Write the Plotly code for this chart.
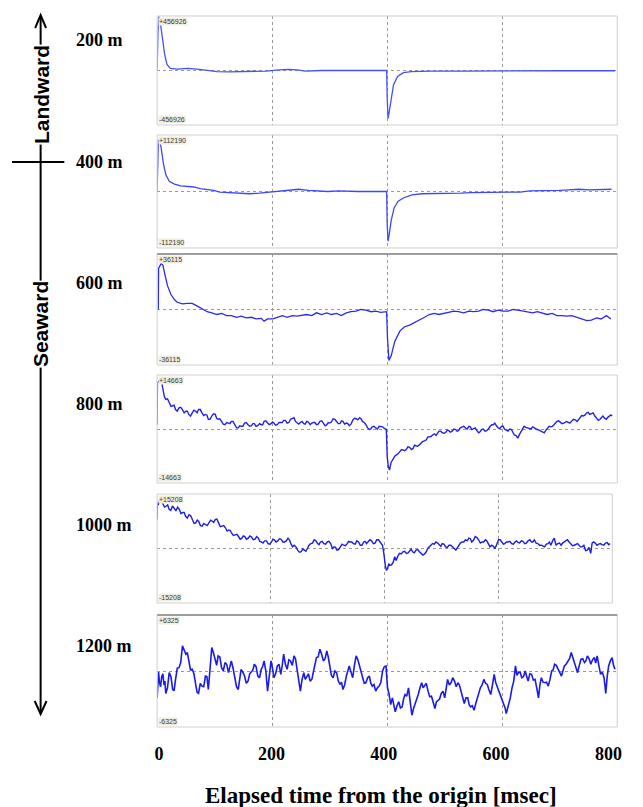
import plotly.graph_objects as go

# page body has an 8px margin: the figure is sized so that it fits the 643x807 window
PAGE_W, PAGE_H = 643, 807
OFF = 8
W, H = PAGE_W - OFF, PAGE_H - OFF

# ---------------- data (values = fraction of each panel's full scale) ----------------
depth_labels = ["200 m", "400 m", "600 m", "800 m", "1000 m", "1200 m"]
full_scale = [456926, 112190, 36115, 14663, 15208, 6325]
x_tick_values = [0, 200, 400, 600, 800]
x_title = "Elapsed time from the origin [msec]"

trace_200m = [(0, 0), (0.5, 0.71), (1.5, 0.74), (3, 0.99), (5, 0.92), (9, 0.61), (13, 0.30), (17, 0.11),
              (23, 0.04), (35, 0.025), (52, 0.04), (70, 0.025), (87, 0.0), (104, -0.02), (126, -0.025),
              (149, -0.02), (172, -0.01), (189, -0.01), (212, 0.01), (229, 0.02), (243, 0.01), (258, -0.01),
              (286, 0.0), (320, 0.0), (354, 0.0), (389, 0.0), (399, 0.0), (400, -0.5), (401.5, -0.88),
              (403.5, -0.76), (407, -0.51), (411, -0.26), (418, -0.11), (428, -0.04), (442, -0.02),
              (476, -0.01), (533, -0.01), (590, -0.005), (647, -0.005), (704, -0.005), (796, -0.005)]

trace_400m = [(0, 0), (0.5, 0.55), (2, 0.89), (4, 0.92), (7, 0.77), (11, 0.49), (15, 0.30), (21, 0.18),
              (30, 0.13), (41, 0.10), (52, 0.09), (64, 0.08), (75, 0.05), (87, 0.04), (98, 0.02),
              (109, -0.01), (126, -0.02), (144, -0.03), (161, -0.04), (178, -0.03), (195, -0.01),
              (212, 0.01), (229, 0.03), (246, 0.04), (263, 0.02), (280, 0.01), (297, 0.0), (315, 0.01),
              (332, 0.0), (349, 0.0), (366, 0.0), (383, 0.0), (399, 0.0), (400, -0.58), (401.5, -0.88),
              (403.5, -0.76), (407, -0.51), (412, -0.29), (419, -0.17), (429, -0.11), (443, -0.06),
              (460, -0.04), (477, -0.04), (494, -0.04), (511, -0.03), (528, -0.03), (545, -0.02),
              (563, -0.02), (580, -0.01), (597, -0.02), (614, -0.01), (631, -0.01), (648, 0.01),
              (665, 0.01), (682, 0.01), (699, 0.02), (716, 0.03), (733, 0.04), (751, 0.03), (768, 0.04),
              (790, 0.04)]

trace_600m = [(2, 0.0), (2.5, 0.74), (7, 0.83), (10, 0.80), (14, 0.61), (18, 0.43), (24, 0.27), (30, 0.18),
              (35, 0.13), (44, 0.10), (52, 0.11), (61, 0.11), (70, 0.06), (78, 0.02), (87, -0.04),
              (95, -0.06), (104, -0.09), (112, -0.07), (121, -0.11), (129, -0.11), (138, -0.14),
              (146, -0.12), (155, -0.15), (164, -0.14), (172, -0.17), (181, -0.16), (186, -0.21),
              (192, -0.17), (201, -0.17), (209, -0.14), (218, -0.11), (226, -0.14), (235, -0.11),
              (243, -0.12), (252, -0.11), (260, -0.09), (269, -0.11), (277, -0.06), (286, -0.09),
              (295, -0.06), (303, -0.09), (312, -0.07), (320, -0.11), (329, -0.06), (337, -0.04),
              (346, -0.03), (354, 0.0), (363, -0.01), (372, -0.04), (380, -0.03), (389, -0.05),
              (399, -0.04), (400.5, -0.51), (403, -0.92), (407, -0.83), (413, -0.58), (422, -0.39),
              (430, -0.31), (439, -0.28), (448, -0.23), (456, -0.20), (465, -0.14), (473, -0.09),
              (482, -0.07), (490, -0.09), (499, -0.07), (507, -0.06), (516, -0.03), (524, -0.04),
              (533, -0.06), (542, -0.03), (550, -0.04), (559, -0.03), (567, 0.0), (576, -0.01),
              (584, -0.04), (593, -0.01), (601, -0.03), (610, -0.03), (619, 0.0), (627, -0.01),
              (636, -0.03), (644, -0.04), (653, -0.06), (661, -0.04), (670, -0.07), (678, -0.09),
              (687, -0.07), (695, -0.11), (704, -0.11), (712, -0.12), (721, -0.11), (730, -0.14),
              (738, -0.17), (747, -0.20), (755, -0.19), (764, -0.15), (772, -0.17), (781, -0.11),
              (789, -0.17)]

trace_800m = [(0, 0.08), (0.5, 0.86), (6, 0.92), (10, 0.74), (15, 0.55), (21, 0.49), (27, 0.43), (32, 0.36),
              (38, 0.39), (44, 0.36), (50, 0.33), (55, 0.27), (61, 0.30), (67, 0.33), (72, 0.36), (78, 0.30),
              (84, 0.27), (89, 0.18), (95, 0.24), (101, 0.27), (106, 0.18), (112, 0.14), (118, 0.08),
              (124, 0.11), (129, 0.14), (135, 0.08), (141, 0.02), (146, 0.05), (152, 0.11), (158, 0.08),
              (164, 0.06), (169, 0.10), (175, 0.06), (181, 0.08), (186, 0.14), (192, 0.11), (198, 0.10),
              (203, 0.11), (209, 0.08), (215, 0.12), (220, 0.16), (226, 0.11), (232, 0.18), (238, 0.21),
              (243, 0.11), (249, 0.12), (255, 0.10), (260, 0.14), (266, 0.08), (272, 0.12), (277, 0.08),
              (283, 0.14), (289, 0.11), (295, 0.08), (300, 0.11), (306, 0.19), (312, 0.14), (318, 0.10),
              (323, 0.14), (329, 0.11), (334, 0.06), (340, 0.16), (346, 0.19), (352, 0.21), (357, 0.14),
              (363, 0.08), (369, -0.01), (374, 0.04), (380, 0.02), (386, 0.05), (392, 0.04), (398.5, -0.01),
              (400, -0.51), (402, -0.70), (404, -0.76), (407, -0.61), (411, -0.54), (416, -0.48),
              (422, -0.42), (428, -0.39), (433, -0.38), (439, -0.34), (445, -0.36), (450, -0.31),
              (456, -0.29), (462, -0.23), (468, -0.20), (473, -0.14), (479, -0.11), (485, -0.12),
              (490, -0.04), (496, -0.07), (502, -0.06), (507, -0.03), (513, -0.04), (519, -0.01),
              (524, -0.03), (530, 0.04), (536, 0.02), (542, 0.05), (547, -0.01), (553, 0.02), (559, -0.07),
              (564, -0.01), (570, -0.04), (576, 0.0), (582, 0.08), (587, 0.11), (593, 0.02), (599, 0.05),
              (604, 0.0), (610, -0.04), (616, -0.01), (621, -0.11), (627, -0.17), (633, -0.04), (638, 0.05),
              (644, 0.02), (650, 0.0), (656, 0.02), (661, -0.01), (667, -0.04), (673, -0.07), (679, 0.02),
              (684, 0.04), (690, 0.08), (695, 0.14), (701, 0.12), (707, 0.11), (712, 0.14), (718, 0.11),
              (724, 0.18), (730, 0.14), (735, 0.21), (741, 0.24), (747, 0.30), (752, 0.27), (758, 0.30),
              (764, 0.19), (770, 0.18), (775, 0.24), (781, 0.18), (787, 0.25), (791, 0.24)]

# in-between readings of the fast jitter on the 800 m trace
trace_800m_jitter = [(3, 0.88), (8, 0.86), (12.5, 0.60), (18, 0.56), (24, 0.42), (29.5, 0.44), (35, 0.33),
                     (41, 0.40), (47, 0.30), (52.5, 0.33), (58, 0.24), (64, 0.35), (69.5, 0.30), (75, 0.36),
                     (81, 0.25), (86.5, 0.26), (92, 0.18), (98, 0.28), (103.5, 0.20), (109, 0.19), (115, 0.09),
                     (121, 0.12), (126.5, 0.10), (132, 0.14), (138, 0.02), (143.5, 0.06), (149, 0.05),
                     (155, 0.12), (161, 0.05), (166.5, 0.10), (172, 0.05), (178, 0.10), (183.5, 0.08),
                     (189, 0.15), (195, 0.08), (200.5, 0.13), (206, 0.07), (212, 0.12), (217.5, 0.12),
                     (223, 0.16), (229, 0.12), (235, 0.20), (240.5, 0.14), (246, 0.09), (252, 0.14),
                     (257.5, 0.09), (263, 0.13), (269, 0.11), (274.5, 0.12), (280, 0.09), (286, 0.15),
                     (292, 0.06), (297.5, 0.12), (303, 0.13), (309, 0.18), (315, 0.10), (320.5, 0.15),
                     (326, 0.09), (331.5, 0.10), (337, 0.09), (343, 0.20), (349, 0.17), (354.5, 0.19),
                     (360, 0.12), (366, 0.02), (371.5, 0.00), (377, 0.05), (383, 0.00), (389, 0.05),
                     (395, 0.01), (401, -0.64), (405.5, -0.66), (409, -0.58), (413.5, -0.50), (419, -0.46),
                     (425, -0.38), (430.5, -0.40), (436, -0.33), (442, -0.38), (447.5, -0.30), (453, -0.32),
                     (459, -0.25), (465, -0.22), (470.5, -0.15), (476, -0.14), (482, -0.09), (487.5, -0.08),
                     (493, -0.04), (499, -0.08), (504.5, -0.02), (510, -0.06), (516, 0.00), (521.5, -0.04),
                     (527, 0.02), (533, 0.05), (539, 0.00), (544.5, 0.04), (550, 0.01), (556, -0.03),
                     (561.5, -0.05), (567, 0.00), (573, -0.03), (579, 0.05), (584.5, 0.08), (590, 0.06),
                     (596, 0.01), (601.5, 0.05), (607, -0.02), (613, 0.00), (618.5, -0.06), (624, -0.12),
                     (630, -0.10), (635.5, 0.02), (641, 0.03), (647, 0.00), (653, 0.04), (658.5, 0.00),
                     (664, -0.02), (670, -0.05), (676, -0.02), (681.5, 0.05), (687, 0.05), (692.5, 0.12),
                     (698, 0.15), (704, 0.10), (709.5, 0.13), (715, 0.12), (721, 0.15), (727, 0.17),
                     (732.5, 0.17), (738, 0.25), (744, 0.26), (749.5, 0.31), (755, 0.28), (761, 0.24),
                     (767, 0.16), (772.5, 0.22), (778, 0.20), (784, 0.22), (789, 0.26)]

trace_1000m = [(0, 0.53), (0.5, 0.84), (4, 0.87), (10, 0.81), (16, 0.78), (21, 0.72), (27, 0.78), (33, 0.69),
               (39, 0.72), (45, 0.66), (50, 0.59), (56, 0.62), (62, 0.53), (68, 0.47), (73, 0.50), (79, 0.41),
               (85, 0.44), (91, 0.47), (97, 0.50), (102, 0.53), (108, 0.47), (114, 0.41), (120, 0.38),
               (126, 0.34), (131, 0.28), (137, 0.25), (143, 0.22), (149, 0.19), (154, 0.22), (160, 0.19),
               (166, 0.21), (172, 0.17), (178, 0.19), (183, 0.12), (189, 0.14), (195, 0.09), (201, 0.12),
               (206, 0.16), (212, 0.14), (218, 0.17), (224, 0.12), (230, 0.19), (235, 0.09), (241, 0.06),
               (247, -0.03), (253, -0.06), (259, -0.03), (264, 0.0), (270, 0.09), (276, 0.16), (282, 0.09),
               (287, 0.12), (293, 0.09), (299, 0.12), (305, 0.09), (311, 0.03), (316, -0.03), (322, 0.03),
               (328, 0.06), (334, 0.09), (339, 0.12), (345, 0.09), (351, 0.14), (357, 0.06), (363, 0.12),
               (368, 0.09), (374, 0.16), (380, 0.09), (386, 0.16), (392, 0.12), (396, 0.06), (398, -0.06),
               (401, -0.31), (405, -0.37), (409, -0.31), (415, -0.25), (420, -0.22), (426, -0.09),
               (432, -0.06), (438, -0.09), (444, -0.03), (449, -0.06), (455, -0.03), (461, -0.06),
               (467, -0.12), (473, -0.06), (478, 0.03), (484, 0.09), (490, 0.12), (496, 0.06), (501, 0.09),
               (507, 0.03), (513, 0.06), (519, 0.03), (525, -0.03), (530, 0.06), (536, 0.12), (542, 0.16),
               (548, 0.19), (553, 0.12), (559, 0.22), (565, 0.16), (571, 0.12), (577, 0.16), (582, 0.09),
               (588, 0.06), (594, 0.0), (600, 0.16), (606, 0.12), (611, 0.09), (617, 0.12), (623, 0.09),
               (629, 0.12), (634, 0.11), (640, 0.14), (646, 0.09), (652, 0.14), (658, 0.12), (663, 0.16),
               (669, 0.09), (675, 0.06), (681, 0.03), (687, 0.09), (692, 0.06), (698, 0.19), (704, 0.09),
               (710, 0.06), (715, 0.12), (721, 0.16), (727, 0.09), (733, 0.06), (739, 0.09), (744, 0.03),
               (750, 0.06), (756, -0.03), (762, -0.09), (767, 0.12), (773, 0.06), (779, 0.09), (785, 0.06),
               (791, 0.11), (796, 0.09)]

trace_1000m_jitter = [(2, 0.80), (7, 0.88), (13, 0.76), (18.5, 0.80), (24, 0.70), (30, 0.74), (36, 0.76),
                      (42, 0.64), (47.5, 0.66), (53, 0.56), (59, 0.60), (65, 0.46), (70.5, 0.52), (76, 0.42),
                      (82, 0.46), (88, 0.42), (94, 0.52), (99.5, 0.48), (105, 0.54), (111, 0.40), (117, 0.42),
                      (123, 0.32), (128.5, 0.33), (134, 0.24), (140, 0.26), (146, 0.17), (151.5, 0.23),
                      (157, 0.17), (163, 0.23), (169, 0.16), (175, 0.22), (180.5, 0.13), (186, 0.10),
                      (192, 0.14), (198, 0.08), (203.5, 0.17), (209, 0.12), (215, 0.18), (221, 0.12),
                      (227, 0.14), (232.5, 0.16), (238, 0.03), (244, 0.03), (250, -0.07), (256, -0.01),
                      (261.5, -0.05), (267, 0.06), (273, 0.10), (279, 0.14), (284.5, 0.07), (290, 0.13),
                      (296, 0.08), (302, 0.13), (308, 0.00), (313.5, 0.02), (319, -0.02), (325, 0.08),
                      (331, 0.05), (336.5, 0.13), (342, 0.12), (348, 0.08), (354, 0.12), (360, 0.06),
                      (365.5, 0.13), (371, 0.13), (377, 0.14), (383, 0.10), (389, 0.16), (394, 0.09),
                      (399.5, -0.20), (403, -0.40), (407, -0.28), (412, -0.30), (417.5, -0.15), (423, -0.14),
                      (429, -0.10), (435, -0.05), (441, -0.08), (446.5, -0.01), (452, -0.08), (458, -0.02),
                      (464, -0.10), (470, -0.10), (475.5, 0.00), (481, 0.05), (487, 0.08), (493, 0.10),
                      (498.5, 0.04), (504, 0.08), (510, 0.02), (516, 0.06), (522, 0.00), (527.5, 0.01),
                      (533, 0.10), (539, 0.12), (545, 0.14), (550.5, 0.18), (556, 0.15), (562, 0.20),
                      (568, 0.10), (574, 0.12), (579.5, 0.14), (585, 0.03), (591, 0.04), (597, 0.10),
                      (603, 0.16), (608.5, 0.08), (614, 0.12), (620, 0.13), (626, 0.08), (631.5, 0.14),
                      (637, 0.10), (643, 0.13), (649, 0.10), (655, 0.16), (660.5, 0.12), (666, 0.10),
                      (672, 0.06), (678, 0.04), (684, 0.08), (689.5, 0.12), (695, 0.14), (701, 0.06),
                      (707, 0.10), (712.5, 0.10), (718, 0.14), (724, 0.12), (730, 0.05), (736, 0.08),
                      (741.5, 0.06), (747, 0.03), (753, -0.04), (759, 0.02), (764.5, 0.10), (770, 0.10),
                      (776, 0.08), (782, 0.07), (788, 0.10), (793.5, 0.07)]

trace_1200m = [(0, -0.48), (1, -0.12), (4, -0.20), (8, -0.10), (12, -0.25), (15, -0.40), (21, -0.03),
               (27, -0.33), (32, -0.15), (38, 0.06), (44, 0.45), (50, 0.30), (55, 0.18), (61, 0.03),
               (67, -0.24), (72, -0.40), (78, -0.27), (84, -0.09), (89, -0.33), (95, 0.42), (101, 0.18),
               (106, 0.27), (112, 0.06), (118, 0.15), (124, -0.03), (129, 0.18), (135, -0.12), (141, -0.33),
               (146, 0.03), (152, -0.09), (158, -0.18), (164, 0.0), (169, 0.12), (175, -0.09), (181, 0.03),
               (186, 0.18), (192, -0.36), (198, 0.18), (203, -0.12), (209, 0.09), (215, -0.06), (220, 0.30),
               (226, 0.03), (232, 0.18), (238, 0.27), (243, 0.03), (249, -0.36), (255, -0.03), (260, -0.09),
               (266, -0.18), (272, 0.0), (277, 0.24), (283, 0.39), (289, 0.18), (295, 0.36), (300, 0.06),
               (306, -0.12), (312, -0.03), (318, -0.24), (323, -0.33), (329, -0.09), (334, 0.09),
               (340, -0.12), (346, 0.27), (352, 0.09), (357, -0.12), (363, -0.21), (369, -0.09),
               (374, -0.27), (380, -0.36), (386, -0.27), (392, 0.0), (398, 0.09), (403, -0.40),
               (409, -0.48), (414, -0.73), (420, -0.55), (426, -0.64), (431, -0.42), (437, -0.30),
               (443, -0.79), (448, -0.61), (454, -0.42), (460, -0.21), (465, -0.27), (471, -0.36),
               (477, -0.45), (483, -0.67), (488, -0.52), (494, -0.40), (500, -0.48), (505, -0.15),
               (511, -0.21), (517, -0.18), (523, -0.21), (528, -0.36), (534, -0.58), (540, -0.48),
               (545, -0.64), (551, -0.70), (557, -0.48), (562, -0.30), (568, -0.15), (574, -0.24),
               (580, -0.42), (586, -0.06), (591, -0.27), (597, -0.42), (603, -0.58), (607, -0.76),
               (614, -0.48), (620, -0.18), (623, 0.09), (628, -0.03), (634, -0.12), (640, 0.0),
               (645, -0.18), (651, -0.06), (657, -0.15), (663, -0.48), (668, -0.12), (674, -0.21),
               (680, -0.27), (686, 0.0), (691, 0.12), (697, 0.03), (703, -0.09), (708, 0.09), (714, 0.18),
               (720, 0.33), (725, 0.18), (731, -0.03), (737, 0.21), (743, 0.15), (748, 0.27), (754, 0.12),
               (760, 0.24), (765, 0.27), (771, -0.06), (777, -0.12), (780, -0.40), (785, 0.09), (791, 0.24),
               (796, 0.03)]

trace_1200m_jitter = [(2.5, -0.02), (6, -0.28), (10, -0.05), (13.5, -0.18), (18, -0.30), (24, -0.10),
                      (29.5, -0.35), (35, 0.05), (41, 0.15), (47, 0.38), (52.5, 0.33), (58, 0.02), (64, -0.05),
                      (69.5, -0.38), (75, -0.22), (81, -0.28), (86.5, -0.10), (92, 0.05), (98, 0.32),
                      (103.5, 0.10), (109, 0.25), (115, 0.00), (121, 0.12), (126.5, 0.08), (132, 0.05),
                      (138, -0.28), (143.5, -0.15), (149, -0.02), (155, -0.22), (161, -0.05), (166.5, 0.02),
                      (172, 0.08), (178, -0.12), (183.5, 0.08), (189, 0.00), (195, -0.10), (200.5, 0.05),
                      (206, -0.05), (212, 0.12), (217.5, 0.10), (223, 0.12), (229, 0.20), (235, 0.10),
                      (240.5, 0.22), (246, -0.20), (252, -0.15), (257.5, -0.15), (263, -0.05), (269, -0.15),
                      (274.5, 0.15), (280, 0.25), (286, 0.30), (292, 0.22), (297.5, 0.25), (303, -0.08),
                      (309, 0.00), (315, -0.18), (320.5, -0.20), (326, -0.25), (331.5, 0.02), (337, -0.02),
                      (343, 0.10), (349, 0.20), (354.5, -0.05), (360, -0.22), (366, -0.12), (371.5, -0.22),
                      (377, -0.24), (383, -0.30), (389, -0.20), (395, 0.08), (400.5, -0.30), (406, -0.60),
                      (411.5, -0.58), (417, -0.62), (423, -0.66), (428.5, -0.50), (434, -0.45), (440, -0.55),
                      (445.5, -0.68), (451, -0.50), (457, -0.30), (462.5, -0.30), (468, -0.22), (474, -0.46),
                      (480, -0.55), (485.5, -0.55), (491, -0.50), (497, -0.36), (502.5, -0.30), (508, -0.25),
                      (514, -0.12), (520, -0.28), (525.5, -0.25), (531, -0.50), (537, -0.48), (542.5, -0.60),
                      (548, -0.62), (554, -0.58), (559.5, -0.40), (565, -0.25), (571, -0.22), (577, -0.34),
                      (583, -0.25), (588.5, -0.20), (594, -0.36), (600, -0.50), (605, -0.66), (610.5, -0.62),
                      (617, -0.30), (621.5, -0.05), (625.5, -0.08), (631, -0.02), (637, -0.10), (642.5, -0.10),
                      (648, -0.05), (654, -0.16), (660, -0.30), (665.5, -0.25), (671, -0.20), (677, -0.20),
                      (683, -0.15), (688.5, 0.02), (694, 0.10), (700, -0.05), (705.5, 0.00), (711, 0.12),
                      (717, 0.22), (722.5, 0.25), (728, 0.05), (734, 0.10), (740, 0.22), (745.5, 0.18),
                      (751, 0.22), (757, 0.20), (762.5, 0.14), (768, 0.10), (774, -0.02), (778.5, -0.25),
                      (782.5, -0.10), (788, 0.18), (793.5, 0.10)]

traces = [trace_200m, trace_400m, trace_600m,
          sorted(trace_800m + trace_800m_jitter),
          sorted(trace_1000m + trace_1000m_jitter),
          sorted(trace_1200m + trace_1200m_jitter)]

# ---------------- geometry (window pixels) ----------------
panel_left = 156
panel_right = [622, 622, 622, 622, 617, 622]
panel_top = [16, 135, 254, 375, 494, 615]
panel_bottom = [125, 248, 365, 483, 603, 727]
label_y = [40, 162, 283, 404, 525, 646]
line_colors = ["#4450f8", "#3c48f6", "#2a2af0", "#2222ee", "#1c1cec", "#1a1aea"]
line_widths = [1.3, 1.3, 1.3, 1.4, 1.4, 1.6]


def px(x):
    return (x - OFF) / W


def py(y):
    return 1 - (y - OFF) / H


serif = "Liberation Serif, Times New Roman, serif"
sans = "Liberation Sans, Arial, sans-serif"

fig = go.Figure()
layout = dict(width=W, height=H, margin=dict(l=0, r=0, t=0, b=0),
              paper_bgcolor="white", plot_bgcolor="white", showlegend=False)
annotations = []
shapes = []

for i in range(6):
    n = i + 1
    fs = full_scale[i]
    t = [p[0] for p in traces[i]]
    v = [p[1] * fs for p in traces[i]]
    fig.add_trace(go.Scatter(x=t, y=v, mode="lines",
                             line=dict(color=line_colors[i], width=line_widths[i]),
                             xaxis=f"x{n}", yaxis=f"y{n}", hoverinfo="skip", showlegend=False))
    layout[f"xaxis{n}"] = dict(domain=[px(panel_left), px(panel_right[i])], range=[0, 800],
                               anchor=f"y{n}", tickvals=[200, 400, 600], showticklabels=False,
                               ticks="", showgrid=True, gridcolor="#9a9a9a", griddash="dot",
                               gridwidth=1, zeroline=False, showline=False, fixedrange=True)
    layout[f"yaxis{n}"] = dict(domain=[py(panel_bottom[i]), py(panel_top[i])], range=[-fs, fs],
                               anchor=f"x{n}", tickvals=[0], showticklabels=False, ticks="",
                               showgrid=True, gridcolor="#9a9a9a", griddash="dot", gridwidth=1,
                               zeroline=False, showline=False, fixedrange=True)
    shapes.append(dict(type="rect", xref="paper", yref="paper",
                       x0=px(panel_left), x1=px(panel_right[i]),
                       y0=py(panel_bottom[i]), y1=py(panel_top[i]),
                       line=dict(color="#cfcfcf", width=1), layer="above"))
    if i in (2, 5):
        shapes.append(dict(type="line", xref="paper", yref="paper",
                           x0=px(panel_left), x1=px(panel_right[i]),
                           y0=py(panel_top[i]), y1=py(panel_top[i]),
                           line=dict(color="#858585", width=1.5), layer="above"))
    for txt, yy, anc in ((f"+{fs}", panel_top[i] + 1, "top"), (f"-{fs}", panel_bottom[i] - 1, "bottom")):
        annotations.append(dict(text=txt, x=px(panel_left + 1), y=py(yy), xref="paper", yref="paper",
                                xanchor="left", yanchor=anc, showarrow=False,
                                font=dict(family=sans, size=7, color="#3a3a3a"),
                                bgcolor="#f1eddc", borderpad=0))
    annotations.append(dict(text=depth_labels[i], x=px(72), y=py(label_y[i]), xref="paper", yref="paper",
                            xanchor="left", yanchor="middle", showarrow=False,
                            font=dict(family=serif, size=18, color="black", weight="bold")))

# shared time tick labels: their own axis on an invisible strip below the panels
fig.add_trace(go.Scatter(x=[], y=[], xaxis="x7", yaxis="y7", showlegend=False, hoverinfo="skip"))
layout["yaxis7"] = dict(domain=[py(741), py(739)], visible=False, anchor="x7", fixedrange=True)
layout["xaxis7"] = dict(domain=[px(panel_left), px(622)], range=[-3.5, 815.8], anchor="y7",
                        tickvals=x_tick_values, ticktext=[str(v) for v in x_tick_values],
                        tickfont=dict(family=serif, size=18, color="black", weight="bold"),
                        ticks="", showgrid=False, zeroline=False, showline=False, fixedrange=True)

annotations.append(dict(text=x_title, x=px(383), y=py(795), xref="paper", yref="paper",
                        xanchor="center", yanchor="middle", showarrow=False,
                        font=dict(family=serif, size=23, color="black", weight="bold")))

# direction arrow
shapes.append(dict(type="line", xref="paper", yref="paper", x0=px(38), x1=px(38), y0=py(16), y1=py(713),
                   line=dict(color="black", width=2)))
shapes.append(dict(type="line", xref="paper", yref="paper", x0=px(9), x1=px(62), y0=py(162), y1=py(162),
                   line=dict(color="black", width=2)))
shapes.append(dict(type="path", xref="paper", yref="paper",
                   path=f"M {px(32.5)},{py(28)} L {px(38)},{py(15)} L {px(43.5)},{py(28)}",
                   line=dict(color="black", width=2)))
shapes.append(dict(type="path", xref="paper", yref="paper",
                   path=f"M {px(32)},{py(701)} L {px(38)},{py(714)} L {px(44)},{py(701)}",
                   line=dict(color="black", width=2)))
for word, yc in (("Landward", 95), ("Seaward", 324)):
    annotations.append(dict(text=word, x=px(38.5), y=py(yc), xref="paper", yref="paper",
                            xanchor="center", yanchor="middle", textangle=-90, showarrow=False,
                            bgcolor="white", borderpad=0,
                            font=dict(family=sans, size=21, color="black", weight="bold")))

layout["annotations"] = annotations
layout["shapes"] = shapes
fig.update_layout(**layout)
fig.write_html("out.html")
